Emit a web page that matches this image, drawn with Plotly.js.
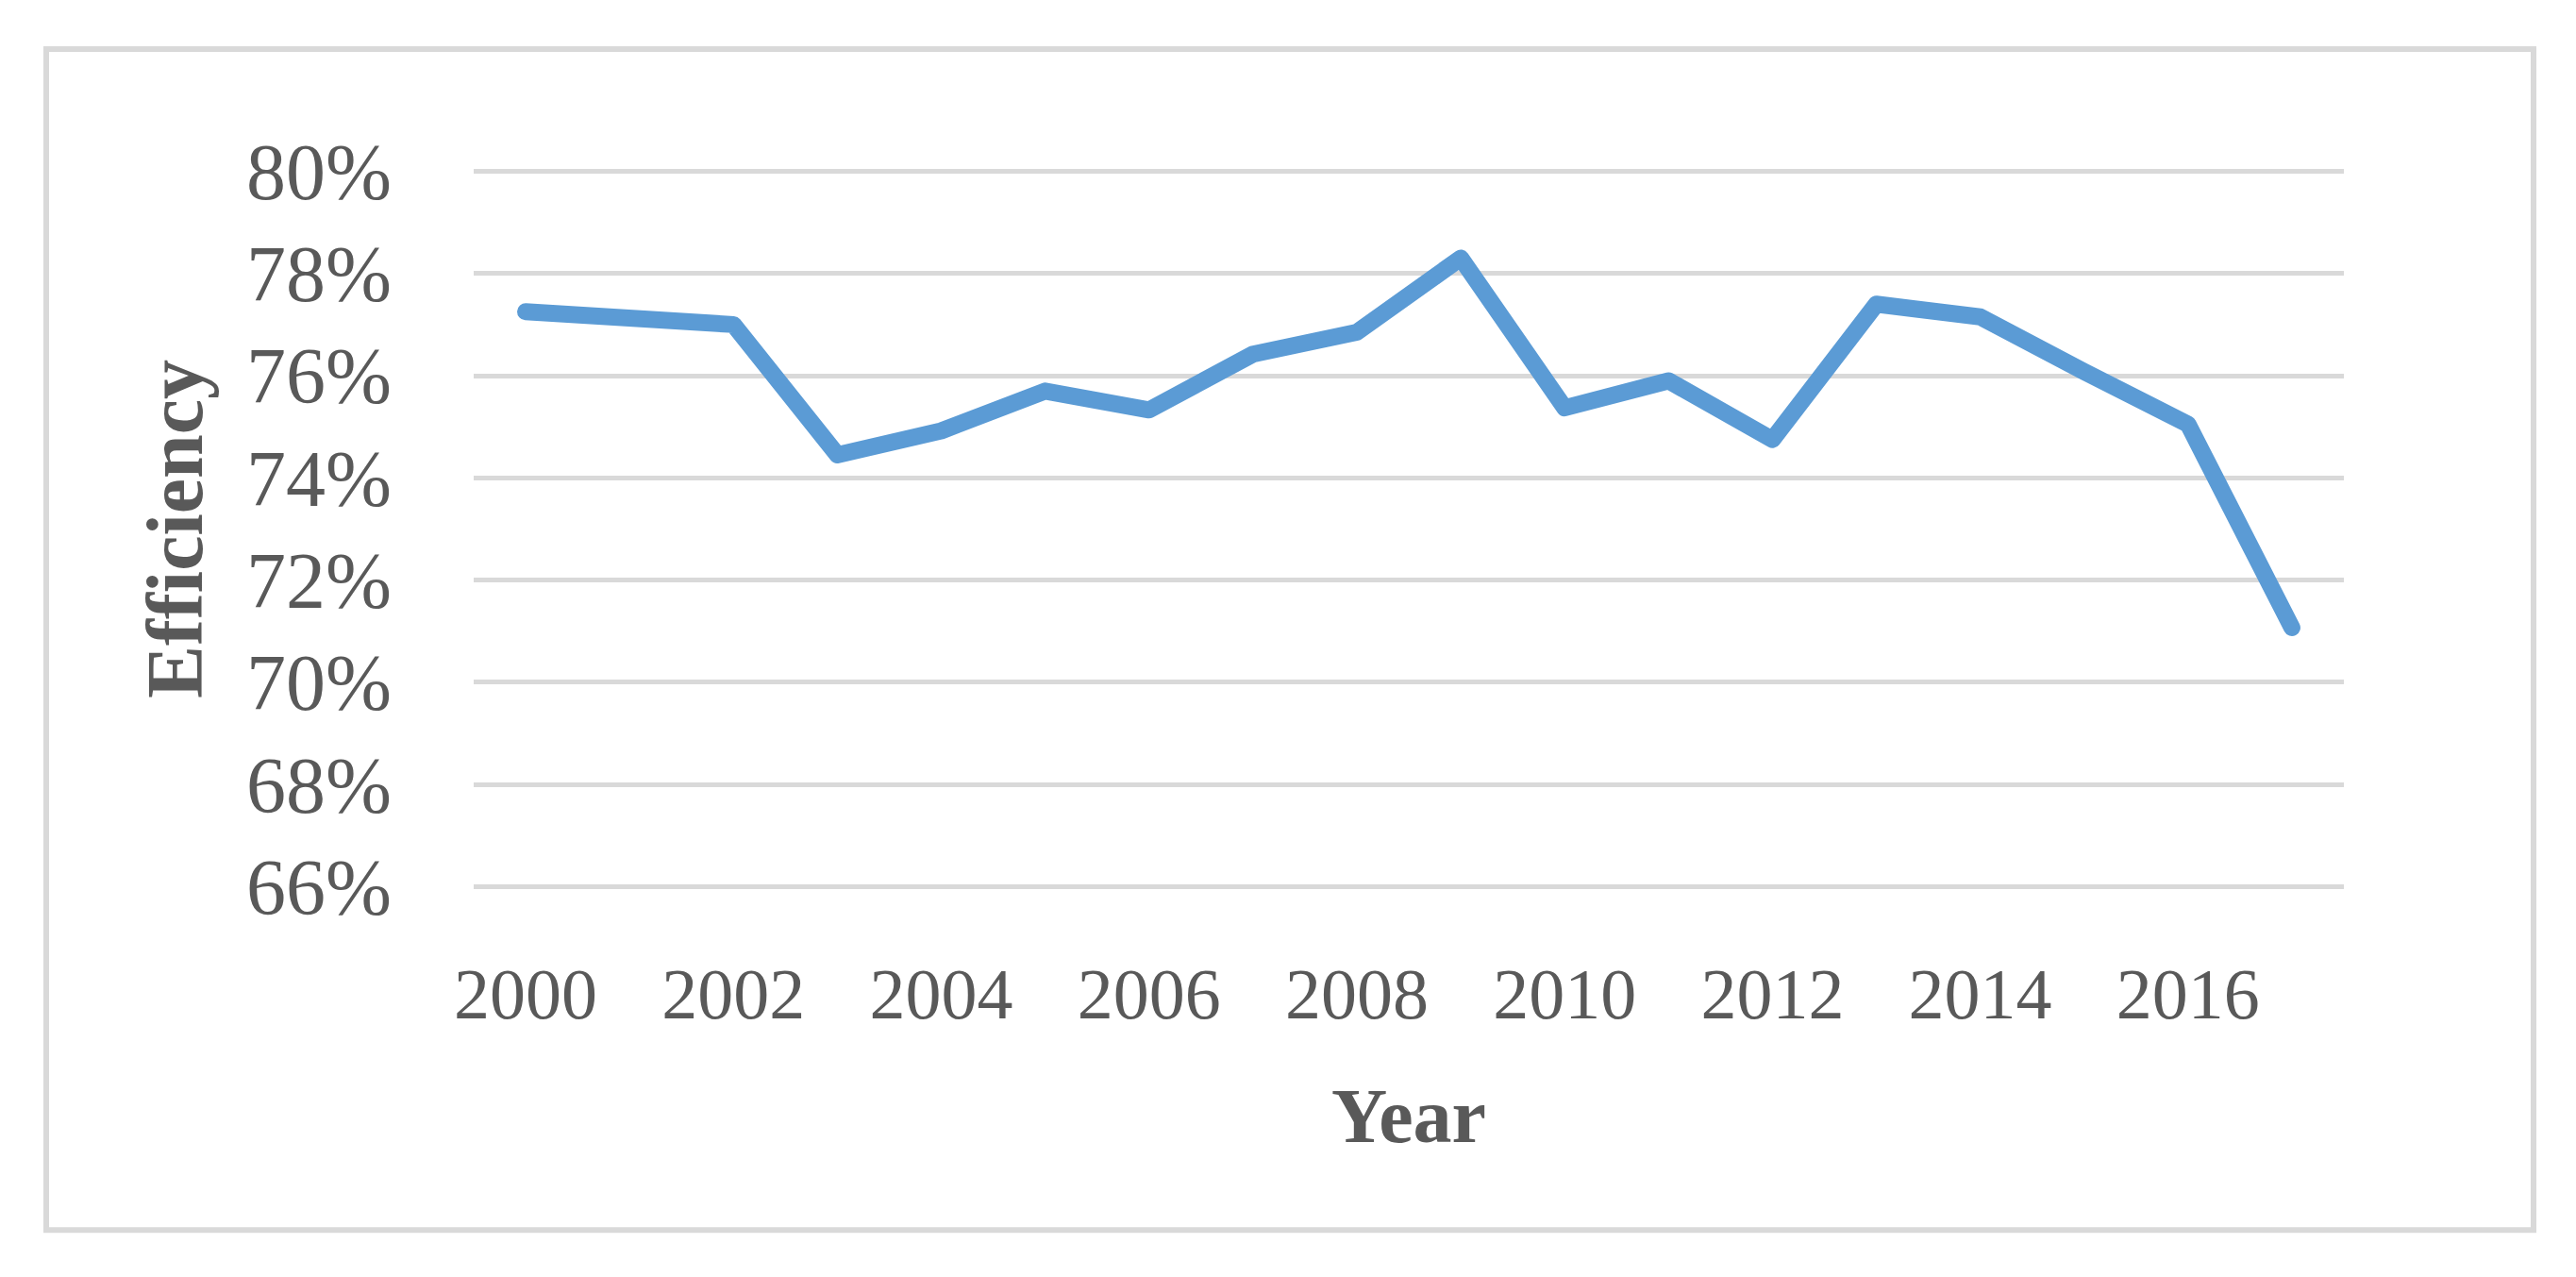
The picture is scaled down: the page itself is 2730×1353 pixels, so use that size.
<!DOCTYPE html>
<html>
<head>
<meta charset="utf-8">
<script src="https://cdn.plot.ly/plotly-3.0.1.min.js"></script>
<style>
  html, body { margin: 0; padding: 0; background: #ffffff; }
  #chart { width: 2730px; height: 1353px; }
  #chart .scatterlayer .js-line { stroke-linejoin: round !important; stroke-linecap: round !important; }
</style>
</head>
<body>
<div id="chart"></div>
<script>
// Data
var years = [2000, 2001, 2002, 2003, 2004, 2005, 2006, 2007, 2008, 2009, 2010, 2011, 2012, 2013, 2014, 2015, 2016, 2017];
var efficiencyPct = [77.25, null, 77.0, 74.45, 74.92, 75.7, 75.33, 76.42, 76.85, 78.3, 75.37, 75.9, 74.75, 77.4, 77.15, 76.08, 75.05, 71.07];
var yTickVals = [66, 68, 70, 72, 74, 76, 78, 80];
var yTickText = ['66%', '68%', '70%', '72%', '74%', '76%', '78%', '80%'];
var xTickVals = [2000, 2002, 2004, 2006, 2008, 2010, 2012, 2014, 2016];
var xTickText = ['2000', '2002', '2004', '2006', '2008', '2010', '2012', '2014', '2016'];

var FONT = '"Liberation Serif", "DejaVu Serif", serif';
var TEXT = '#595959';
var GRID = '#D9D9D9';

var trace = {
  x: years,
  y: efficiencyPct,
  type: 'scatter',
  mode: 'lines',
  connectgaps: true,
  line: { color: '#5B9BD5', width: 18, shape: 'linear' },
  hoverinfo: 'x+y'
};

// 66% gridline at pixel 940, 80% gridline at pixel 181; range padded by PAD units so edge gridlines are drawn
var W = 2730, H = 1353;
var L = 502, R = 2484;
var Y_LO = 66, Y_HI = 80, PAD = 0.1;
var pxPerUnit = (940 - 181) / (Y_HI - Y_LO);
var T = 181 - PAD * pxPerUnit, B = 940 + PAD * pxPerUnit;
function px2x(p) { return (p - L) / (R - L); }
function px2y(p) { return (B - p) / (B - T); }

var layout = {
  width: W,
  height: H,
  margin: { l: L, r: W - R, t: T, b: H - B, pad: 0 },
  paper_bgcolor: '#ffffff',
  plot_bgcolor: '#ffffff',
  showlegend: false,
  font: { family: FONT, color: TEXT },
  xaxis: {
    type: 'linear',
    range: [1999.5, 2017.5],
    tickmode: 'array',
    tickvals: xTickVals,
    ticktext: xTickText,
    showgrid: false,
    zeroline: false,
    showline: false,
    ticks: '',
    ticklabelstandoff: 57,
    tickfont: { family: FONT, size: 76, color: TEXT },
    title: { text: 'Year', font: { family: FONT, size: 82, color: TEXT, weight: 'bold' }, standoff: 58 },
    automargin: false,
    fixedrange: true
  },
  yaxis: {
    range: [Y_LO - PAD, Y_HI + PAD],
    tickmode: 'array',
    tickvals: yTickVals,
    ticktext: yTickText,
    showgrid: true,
    gridcolor: GRID,
    gridwidth: 5,
    zeroline: false,
    showline: false,
    ticks: '',
    ticklabelstandoff: 86,
    tickfont: { family: FONT, size: 84, color: TEXT },
    title: { text: 'Efficiency', font: { family: FONT, size: 84, color: TEXT, weight: 'bold' }, standoff: 18 },
    automargin: false,
    fixedrange: true
  },
  shapes: [{
    type: 'rect',
    xref: 'paper', yref: 'paper',
    x0: px2x(49), x1: px2x(2685),
    y0: px2y(1304), y1: px2y(51.5),
    line: { color: GRID, width: 6 },
    fillcolor: 'rgba(0,0,0,0)',
    layer: 'below'
  }]
};

Plotly.newPlot('chart', [trace], layout, { displayModeBar: false, staticPlot: true });
</script>
</body>
</html>
